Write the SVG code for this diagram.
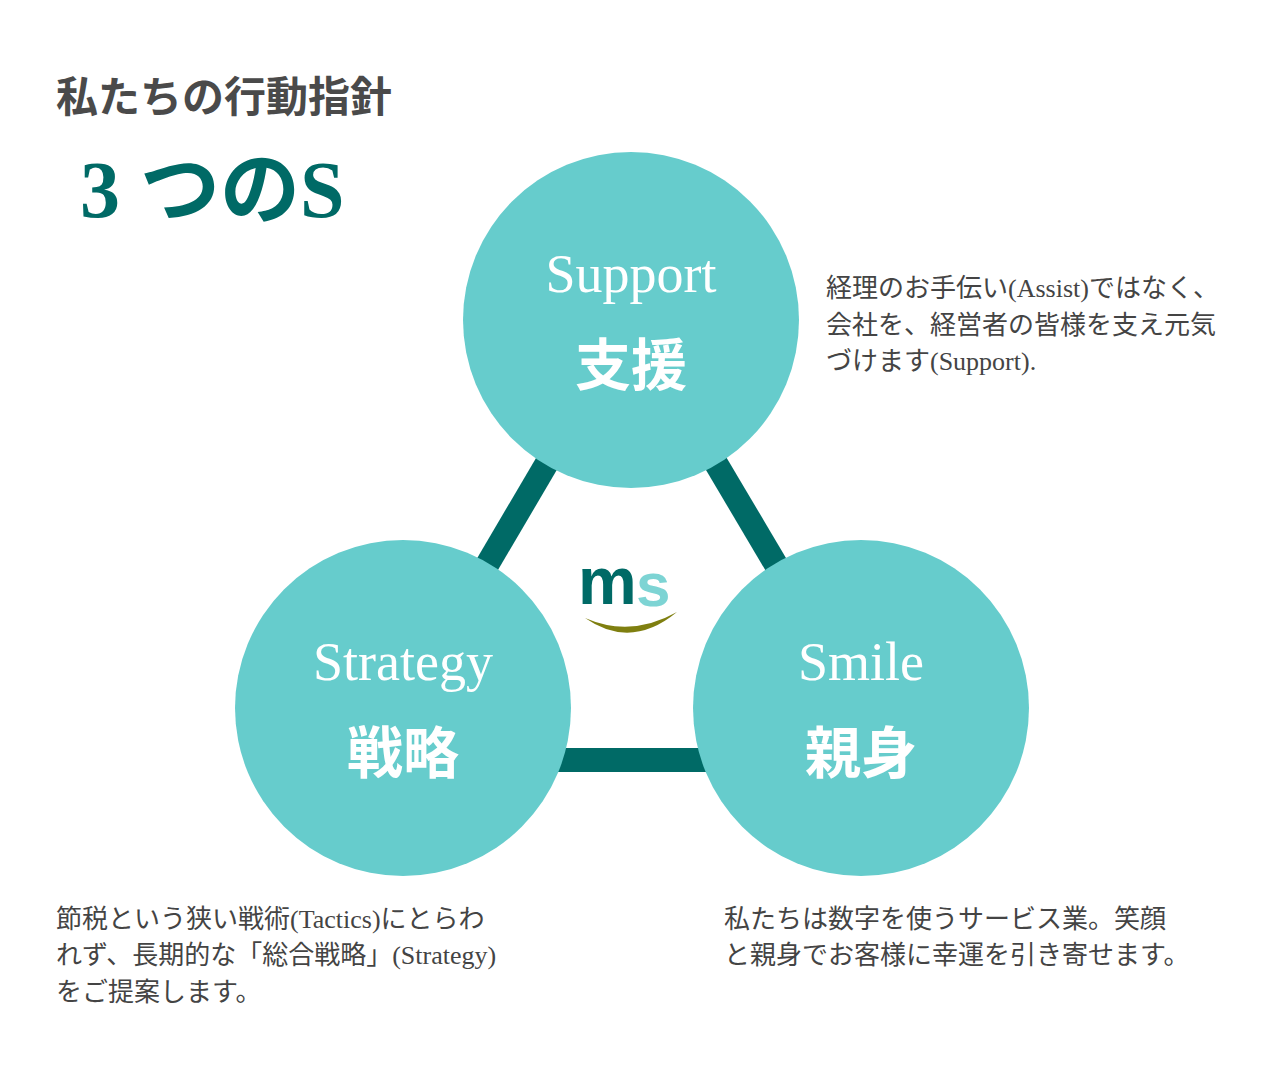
<svg xmlns="http://www.w3.org/2000/svg" width="1286" height="1070" viewBox="0 0 1286 1070">
<style>
.c{fill:#66cccc}
.en{font-family:"Liberation Serif","Noto Sans CJK JP",serif;fill:#fff;font-size:54px;text-anchor:middle}
.jp{font-family:"Liberation Serif","Noto Sans CJK JP",serif;fill:#fff;font-size:56px;font-weight:bold;text-anchor:middle}
.d{font-family:"Liberation Serif","Noto Sans CJK JP",serif;fill:#444;font-size:26px}
</style>
<rect width="1286" height="1070" fill="#fff"/>
<text x="56" y="112" font-family="Liberation Serif,Noto Sans CJK JP,serif" font-size="42" font-weight="bold" fill="#4a4a4a">私たちの行動指針</text>
<text x="80" y="217" font-family="Liberation Serif,Noto Sans CJK JP,serif" font-size="80" font-weight="bold" fill="#006a66">3 つのS</text>
<g id="connectors" stroke="#006a66" stroke-width="24">
<line x1="631" y1="320" x2="403" y2="708"/>
<line x1="631" y1="320" x2="861" y2="708"/>
<line x1="403" y1="760" x2="861" y2="760"/>
</g>
<g id="support"><circle class="c" cx="631" cy="320" r="168"/><text class="en" x="631" y="292">Support</text><text class="jp" x="631" y="385">支援</text></g>
<g id="strategy"><circle class="c" cx="403" cy="708" r="168"/><text class="en" x="403" y="680">Strategy</text><text class="jp" x="403" y="773">戦略</text></g>
<g id="smile"><circle class="c" cx="861" cy="708" r="168"/><text class="en" x="861" y="680">Smile</text><text class="jp" x="861" y="773">親身</text></g>
<g id="logo">
<path d="M585 618 Q631 650 677 612 Q631 638 585 618Z" fill="#7f7f10"/>
<text x="578" y="604" font-family="Liberation Sans,sans-serif" font-size="66" font-weight="bold" fill="#006a66" letter-spacing="-4">m</text>
<text x="636" y="606" font-family="Liberation Sans,sans-serif" font-size="62" font-weight="bold" fill="#66cccc" fill-opacity="0.85">s</text>
</g>
<g id="desc" class="d">
<text class="d" x="826" y="297">経理のお手伝い(Assist)ではなく、</text>
<text class="d" x="826" y="334">会社を、経営者の皆様を支え元気</text>
<text class="d" x="826" y="370">づけます(Support).</text>
<text class="d" x="56" y="928">節税という狭い戦術(Tactics)にとらわ</text>
<text class="d" x="56" y="964">れず、長期的な「総合戦略」(Strategy)</text>
<text class="d" x="56" y="1001">をご提案します。</text>
<text class="d" x="724" y="928">私たちは数字を使うサービス業。笑顔</text>
<text class="d" x="724" y="964">と親身でお客様に幸運を引き寄せます。</text>
</g>
</svg>
